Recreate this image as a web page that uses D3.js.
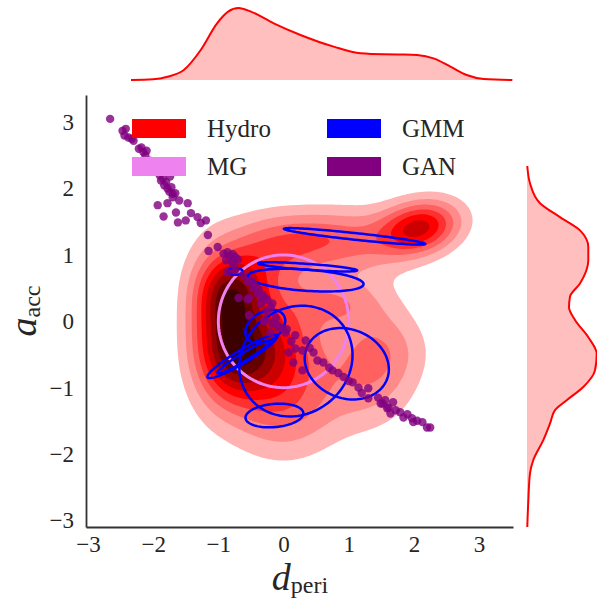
<!DOCTYPE html>
<html>
<head>
<meta charset="utf-8">
<script src="https://cdn.jsdelivr.net/npm/d3@7"></script>
<style>
  body { margin: 0; background: #fff; }
  svg text { font-family: "Liberation Serif", "DejaVu Serif", serif; fill: #262626; }
</style>
</head>
<body>
<div id="chart"></div>
<script>
// Hydro: 2D density drawn as blobs (centre, spread, weight)
const hydroX   = [-0.75, -0.78, -0.15, 2.1, 1.1, 0.0, 1.3, 0.8, -0.3, -1.1, 1.3, 1.6, 0.3];
const hydroY   = [-0.45, 0.45, -0.35, 1.42, 1.2, -1.25, -0.5, 0.3, 0.95, 0.0, -1.1, -0.4, 1.25];
const hydroSx  = [0.38, 0.36, 0.5, 0.42, 0.65, 0.6, 0.5, 0.55, 0.5, 0.32, 0.5, 0.45, 0.6];
const hydroSy  = [0.52, 0.38, 0.5, 0.28, 0.35, 0.55, 0.5, 0.3, 0.4, 0.8, 0.45, 0.4, 0.3];
const hydroRho = [0, 0, 0, 0.2, 0, 0, 0, 0, 0, 0, 0, 0, 0];
const hydroW   = [0.55, 0.5, 0.4, 0.55, 0.22, 0.3, 0.15, 0.22, 0.25, 0.2, 0.12, 0.12, 0.2];
const levelColors = ["#ffb3b3", "#ff8a8a", "#ff6161", "#ff3030", "#ff0000", "#cc0000", "#990000", "#660000", "#3d0000"];

// marginal densities of Hydro (relative height)
const topX = [-2.34, -2.0, -1.78, -1.53, -1.27, -1.02, -0.85, -0.69, -0.5, -0.15, 0.26, 0.77, 1.18, 1.54, 1.85, 2.05, 2.30, 2.56, 2.81, 3.07, 3.51];
const topD = [0, 0.01, 0.046, 0.139, 0.417, 0.787, 0.95, 1.0, 0.95, 0.787, 0.625, 0.463, 0.371, 0.357, 0.355, 0.347, 0.30, 0.185, 0.069, 0.014, 0];
const rightY = [2.34, 2.08, 1.78, 1.57, 1.37, 1.12, 0.92, 0.57, 0.37, 0.21, 0.02, -0.24, -0.49, -0.74, -0.99, -1.19, -1.34, -1.54, -1.79, -2.09, -2.29, -2.70, -3.1];
const rightD = [0.004, 0.043, 0.186, 0.471, 0.757, 0.876, 0.876, 0.757, 0.614, 0.6, 0.686, 0.876, 0.996, 0.971, 0.804, 0.567, 0.4, 0.329, 0.233, 0.09, 0.043, 0.019, 0.004];

// MG: unit circle
const mgCx = 0, mgCy = 0, mgR = 1;

// GMM component ellipses
const gmmCx    = [1.09, 0.37, 0.34, -0.74, -0.28, 0.19, 0.97, -0.14, -0.63, -0.61];
const gmmCy    = [1.28, 0.82, 0.62, 0.75, -0.08, -0.6, -0.64, -1.42, -0.53, -0.54];
const gmmA     = [1.09, 0.76, 0.89, 0.115, 0.33, 0.9, 0.66, 0.445, 0.62, 0.47];
const gmmB     = [0.05, 0.045, 0.16, 0.05, 0.22, 0.8, 0.52, 0.175, 0.1, 0.06];
const gmmAngle = [-6, -4, -4, 0, 30, 35, -20, 5, 30.5, 31];

// GAN samples
const ganX = [-2.66, -2.47, -2.42, -2.44, -2.38, -2.33, -2.30, -2.22, -2.18, -2.15, -2.12, -2.10,
  -2.05, -2.0, -1.97, -1.93, -1.9, -1.88, -1.85, -1.83, -1.8, -1.78, -1.75, -1.72, -1.7, -1.66, -1.74,
  -1.93, -1.84, -1.78, -1.65, -1.62, -1.5, -1.47, -1.6, -1.42, -1.32, -1.27, -1.19, -1.7,
  -1.16, -1.15, -1.01, -0.92, -0.86, -0.82, -0.78, -0.74, -0.7, -0.88, -0.8, -0.76,
  -0.86, -0.74, -0.62, -0.55, -0.5, -0.47, -0.45, -0.4, -0.38, -0.32, -0.28, -0.69, -0.55, -0.35, -0.25, -0.2,
  -0.53, -0.33, -0.17, -0.53, -0.28, -0.17, -0.07, -0.2, 0.03, 0.18, 0.34, 0.18, 0.08, 0.29, 0.15, 0.29,
  -0.25, -0.12, -0.02, -0.3, -0.1, 0.05, 0.12,
  0.46, 0.52, 0.61, 0.75, 0.84, 0.92, 1.06, 1.15, 1.3, 1.3, 1.45, 1.52, 1.61, 1.64,
  0.4, 0.7, 1.0, 1.2,
  1.56, 1.49, 1.59, 1.68, 1.72, 1.79, 1.84, 1.9, 1.97, 1.99, 2.05, 2.13, 2.2, 2.25];
const ganY = [3.05, 2.87, 2.9, 2.8, 2.77, 2.75, 2.72, 2.6, 2.62, 2.55, 2.5, 2.57,
  2.42, 2.35, 2.3, 2.25, 2.2, 2.12, 2.15, 2.05, 2.1, 2.0, 1.95, 2.02, 1.92, 1.93, 2.18,
  1.75, 1.58, 1.78, 1.64, 1.49, 1.52, 1.78, 1.82, 1.63, 1.57, 1.48, 1.52, 1.87,
  1.3, 1.06, 1.12, 1.02, 1.04, 0.98, 1.01, 0.97, 0.93, 0.92, 0.9, 0.86,
  0.74, 0.77, 0.7, 0.6, 0.62, 0.51, 0.55, 0.42, 0.48, 0.4, 0.35, 0.35, 0.33, 0.27, 0.32, 0.21,
  0.35, 0.36, 0.27, 0.09, 0.02, -0.03, -0.09, -0.17, -0.17, -0.21, -0.29, -0.41, -0.47, -0.44, -0.62, -0.74,
  0.15, 0.05, -0.1, 0.0, -0.05, -0.12, -0.3,
  -0.47, -0.59, -0.62, -0.74, -0.78, -0.84, -0.92, -1.0, -1.01, -1.16, -1.15, -1.24, -1.3, -1.39,
  -0.4, -0.7, -0.9, -1.08,
  -1.19, -1.24, -1.31, -1.22, -1.34, -1.37, -1.45, -1.4, -1.46, -1.52, -1.5, -1.52, -1.6, -1.6];

const xTicks = [-3, -2, -1, 0, 1, 2, 3];
const yTicks = [-3, -2, -1, 0, 1, 2, 3];
const legendNames = ["Hydro", "MG", "GMM", "GAN"];
const legendColors = ["#ff0000", "#ee82ee", "#0000ff", "#800080"];

const W = 597, H = 598;
const svg = d3.select('#chart').append('svg').attr('width', W).attr('height', H);

const x = d3.scaleLinear().domain([-3.03, 3.52]).range([86, 513]);
const y = d3.scaleLinear().domain([-3.1, 3.41]).range([527, 95]);

svg.append('clipPath').attr('id', 'plot-clip').append('rect')
  .attr('x', 86).attr('y', 95).attr('width', 427).attr('height', 432);
const plot = svg.append('g').attr('clip-path', 'url(#plot-clip)');

// density grid from the blobs, then filled contours
const nx = 160, ny = 160;
const cellW = (513 - 86) / nx, cellH = (527 - 95) / ny;
const grid = new Float64Array(nx * ny);
for (let j = 0; j < ny; j++) {
  const vy = y.invert(95 + (j + 0.5) * cellH);
  for (let i = 0; i < nx; i++) {
    const vx = x.invert(86 + (i + 0.5) * cellW);
    let s = 0;
    for (let k = 0; k < hydroX.length; k++) {
      const dx = (vx - hydroX[k]) / hydroSx[k], dy = (vy - hydroY[k]) / hydroSy[k], r = hydroRho[k];
      s += hydroW[k] * Math.exp(-(dx * dx - 2 * r * dx * dy + dy * dy) / (2 * (1 - r * r)));
    }
    grid[j * nx + i] = s;
  }
}
const gmax = d3.max(grid);
const thresholds = levelColors.map((c, i) => gmax * (i + 1) / (levelColors.length + 1));
const contours = d3.contours().size([nx, ny]).thresholds(thresholds)(grid);
const toScreen = d3.geoPath(d3.geoTransform({
  point(px, py) { this.stream.point(86 + px * cellW, 95 + py * cellH); }
}));
plot.append('g').selectAll('path').data(contours).join('path')
  .attr('d', toScreen)
  .attr('fill', (d, i) => levelColors[i]);

// MG circle
const ts = d3.range(0, 361, 3).map(t => t * Math.PI / 180);
plot.append('path')
  .datum(ts.map(t => [mgCx + mgR * Math.cos(t), mgCy + mgR * Math.sin(t)]))
  .attr('d', d3.line().x(d => x(d[0])).y(d => y(d[1])))
  .attr('fill', 'none').attr('stroke', '#ee82ee').attr('stroke-width', 3);

// GMM ellipses
const ellipse = d3.line().x(d => x(d[0])).y(d => y(d[1])).curve(d3.curveLinearClosed);
plot.append('g').selectAll('path').data(gmmCx.map((c, i) => i)).join('path')
  .attr('d', i => {
    const th = gmmAngle[i] * Math.PI / 180;
    return ellipse(ts.map(t => [
      gmmCx[i] + gmmA[i] * Math.cos(t) * Math.cos(th) - gmmB[i] * Math.sin(t) * Math.sin(th),
      gmmCy[i] + gmmA[i] * Math.cos(t) * Math.sin(th) + gmmB[i] * Math.sin(t) * Math.cos(th)
    ]));
  })
  .attr('fill', 'none').attr('stroke', '#0000ff').attr('stroke-width', 2.5);

// GAN points
plot.append('g').selectAll('circle').data(ganX.map((v, i) => [v, ganY[i]])).join('circle')
  .attr('cx', d => x(d[0])).attr('cy', d => y(d[1])).attr('r', 4.2)
  .attr('fill', '#800080').attr('fill-opacity', 0.8);

// axes
const xAxis = svg.append('g').attr('transform', 'translate(0,527)')
  .call(d3.axisBottom(x).tickValues(xTicks).tickFormat(d3.format('d')).tickSize(0).tickPadding(9));
const yAxis = svg.append('g').attr('transform', 'translate(86,0)')
  .call(d3.axisLeft(y).tickValues(yTicks).tickFormat(d3.format('d')).tickSize(0).tickPadding(12));
[xAxis, yAxis].forEach(a => {
  a.select('.domain').attr('stroke', '#333').attr('stroke-width', 1.8);
  a.selectAll('text').style('font-size', '23px').attr('fill', '#262626');
});

const xl = svg.append('text').attr('x', 300).attr('y', 590).attr('text-anchor', 'middle');
xl.append('tspan').attr('font-style', 'italic').style('font-size', '38px').text('d');
xl.append('tspan').attr('dy', 3).style('font-size', '24px').text('peri');

const yl = svg.append('text').attr('transform', 'translate(36,311) rotate(-90)').attr('text-anchor', 'middle');
yl.append('tspan').attr('font-style', 'italic').style('font-size', '38px').text('a');
yl.append('tspan').attr('dy', 4).style('font-size', '24px').text('acc');

// marginals
const topScale = d3.scaleLinear().domain([0, 1]).range([80, 8]);
svg.append('clipPath').attr('id', 'top-clip').append('rect')
  .attr('x', 86).attr('y', 0).attr('width', 427).attr('height', 82);
const topG = svg.append('g').attr('clip-path', 'url(#top-clip)');
const topPts = topX.map((v, i) => [v, topD[i]]);
topG.append('path').datum(topPts)
  .attr('d', d3.area().x(d => x(d[0])).y0(80).y1(d => topScale(d[1])).curve(d3.curveMonotoneX))
  .attr('fill', '#ffbfbf');
topG.append('path').datum(topPts)
  .attr('d', d3.line().x(d => x(d[0])).y(d => topScale(d[1])).curve(d3.curveMonotoneX))
  .attr('fill', 'none').attr('stroke', '#ff0000').attr('stroke-width', 2);

const rightScale = d3.scaleLinear().domain([0, 1]).range([527, 597]);
const rightPts = rightY.map((v, i) => [v, rightD[i]]);
svg.append('path').datum(rightPts)
  .attr('d', d3.area().y(d => y(d[0])).x0(527).x1(d => rightScale(d[1])).curve(d3.curveMonotoneY))
  .attr('fill', '#ffbfbf');
svg.append('path').datum(rightPts)
  .attr('d', d3.line().y(d => y(d[0])).x(d => rightScale(d[1])).curve(d3.curveMonotoneY))
  .attr('fill', 'none').attr('stroke', '#ff0000').attr('stroke-width', 2);

// legend
const legend = svg.append('g');
legendNames.forEach((name, i) => {
  const lx = i < 2 ? 132 : 327, ly = 119 + (i % 2) * 38;
  legend.append('rect').attr('x', lx).attr('y', ly).attr('width', 54).attr('height', 19).attr('fill', legendColors[i]);
  legend.append('text').attr('x', lx + 75).attr('y', ly + 18).style('font-size', '25px').text(name);
});
</script>
</body>
</html>
